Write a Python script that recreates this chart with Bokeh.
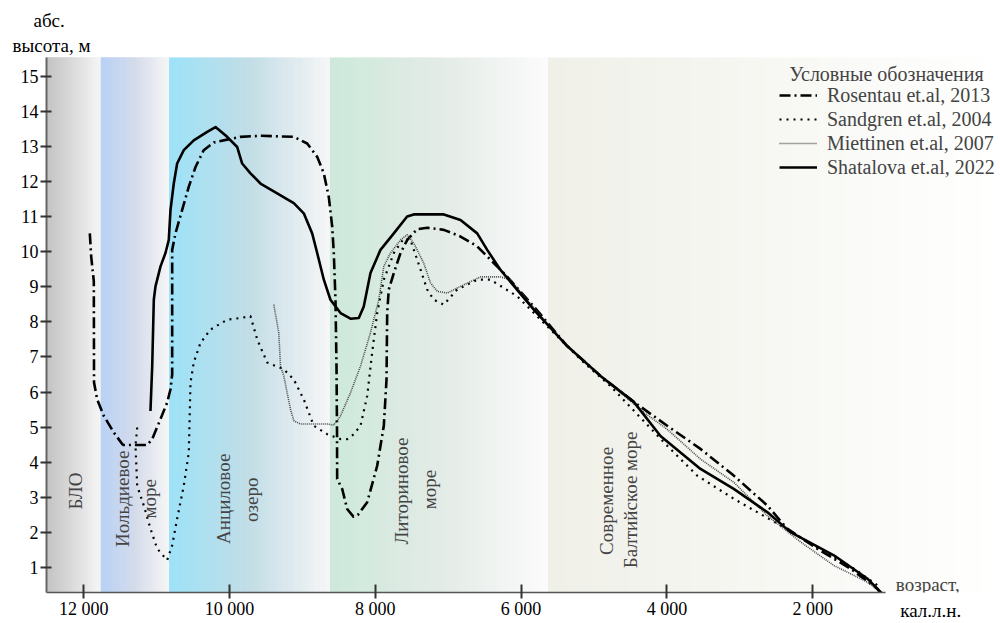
import numpy as np
from bokeh.plotting import figure
from bokeh.models import Range1d, FixedTicker, Label, Legend, LegendItem, Title, LinearAxis
from bokeh.embed import file_html
from bokeh.resources import INLINE

# ---------------- data ----------------
rosentau_age = [11916, 11897, 11861, 11858, 11815, 11724, 11587, 11472, 11454, 11129, 11060, 10946,
                10855, 10809, 10786, 10786, 10741, 10649, 10558, 10466, 10353, 10215, 10032, 9849,
                9575, 9118, 8934, 8797, 8706, 8638, 8591, 8569, 8546, 8532, 8525, 8523, 8454, 8386,
                8300, 8240, 8111, 7974, 7883, 7846, 7837, 7815, 7746, 7654, 7563, 7425, 7288, 7060,
                6831, 6602, 6420, 6237, 5826, 5368, 4911, 4454, 3996, 3539, 3083, 2624, 2350, 1939,
                1482, 1115, 1025]
rosentau_h = [10.52, 9.86, 9.15, 6.27, 5.79, 5.32, 4.85, 4.52, 4.49, 4.49, 4.66, 5.23,
              5.70, 6.08, 6.50, 10.05, 10.52, 11.19, 11.85, 12.41, 12.89, 13.11, 13.19, 13.27,
              13.30, 13.27, 13.08, 12.70, 12.23, 11.56, 10.71, 9.96, 8.63, 6.74, 4.85, 3.52, 3.24, 2.67,
              2.45, 2.50, 2.86, 3.90, 5.04, 6.36, 8.25, 8.92, 9.39, 9.96, 10.33, 10.64, 10.68, 10.62,
              10.43, 10.15, 9.77, 9.39, 8.44, 7.31, 6.46, 5.72, 5.04, 4.38, 3.62, 2.77, 2.11, 1.54,
              0.97, 0.40, 0.15]

sandgren_age = [11266, 11289, 11266, 11176, 11084, 10992, 10855, 10786, 10718, 10627, 10558, 10535,
                10490, 10398, 10261, 10032, 9849, 9712, 9620, 9483, 9255, 9118, 8981, 8844, 8660,
                8477, 8386, 8295, 8203, 8111, 8043, 7974, 7883, 7746, 7608, 7517, 7425, 7288, 7198,
                7060, 6877, 6602, 6420, 6054, 5597, 5140, 4774, 3996, 3585, 3083, 2442, 1985, 1436,
                1115]
sandgren_h = [4.99, 4.47, 3.33, 2.77, 2.11, 1.54, 1.21, 1.63, 2.39, 3.33, 4.28, 6.27,
              6.84, 7.40, 7.78, 8.06, 8.11, 8.16, 7.50, 6.84, 6.65, 6.36, 5.79, 5.04, 4.80,
              4.66, 4.66, 4.80, 5.04, 5.89, 7.12, 8.25, 9.20, 9.96, 10.38, 10.33, 9.77, 8.92, 8.63,
              8.49, 8.92, 9.20, 9.20, 8.73, 7.78, 6.84, 6.17, 4.47, 3.62, 2.96, 2.20, 1.63, 0.97,
              0.50]

miettinen_age = [9392, 9324, 9300, 9255, 9209, 9163, 9118, 9026, 8660, 8569, 8477, 8340, 8203, 8066,
                 7952, 7883, 7792, 7654, 7563, 7472, 7335, 7243, 7151, 7014, 6831, 6557, 6283, 6146,
                 5826, 5368, 4911, 4317, 3996, 3539, 3083, 2624, 2167, 1710, 1253, 1070]
miettinen_h = [8.49, 7.69, 6.74, 6.46, 5.98, 5.51, 5.18, 5.09, 5.09, 5.06, 5.32, 5.98, 6.74, 7.69,
               8.63, 9.58, 9.96, 10.33, 10.48, 10.24, 9.67, 9.11, 8.87, 8.82, 9.01, 9.28, 9.28, 9.20,
               8.40, 7.31, 6.46, 5.42, 4.94, 4.09, 3.43, 2.48, 1.73, 1.06, 0.59, 0.31]

shatalova_age = [11084, 11060, 11038, 11015, 10946, 10878, 10833, 10809, 10764, 10718, 10627, 10490,
                 10306, 10192, 10032, 9894, 9826, 9712, 9575, 9346, 9118, 8981, 8866, 8797, 8706,
                 8615, 8477, 8340, 8226, 8158, 8066, 7929, 7746, 7563, 7472, 7060, 6831, 6602, 6465,
                 6283, 5826, 5368, 4911, 4454, 4088, 3539, 3083, 2624, 2305, 1710, 1253, 1025]
shatalova_h = [5.46, 6.74, 8.63, 9.01, 9.58, 9.96, 10.33, 11.19, 11.94, 12.51, 12.89, 13.17,
               13.41, 13.55, 13.27, 12.98, 12.51, 12.23, 11.94, 11.66, 11.38, 11.09, 10.52, 9.96, 9.20,
               8.63, 8.25, 8.09, 8.11, 8.44, 9.39, 10.05, 10.52, 11.00, 11.06, 11.06, 10.90, 10.52, 10.05,
               9.48, 8.35, 7.31, 6.46, 5.72, 4.75, 3.81, 3.24, 2.58, 2.01, 1.35, 0.69, 0.21]

series_names = ["Rosentau et.al, 2013", "Sandgren et.al, 2004",
                "Miettinen et.al, 2007", "Shatalova et.al, 2022"]

# stages (background bands): edges in cal. years BP
band_edges = [12510, 11760, 10823, 8615, 5624, -576]
band_colors = [["#c3c3c3", "#dbdbdb", "#f6f6f6"],
               ["#b7d1f6", "#d4dbea", "#f6f6f6"],
               ["#9de2f8", "#c2dde6", "#f6f6f6"],
               ["#cde9db", "#e3ebe6", "#fbfbfb"],
               ["#f0f0e9", "#f7f7f3", "#ffffff"]]

x_ticks = [12000, 10000, 8000, 6000, 4000, 2000]
x_tick_labels = ["12 000", "10 000", "8 000", "6 000", "4 000", "2 000"]
y_ticks = list(range(1, 16))

FONT = "Liberation Serif"
Y0, Y1 = 0.29, 15.53

p = figure(width=1000, height=623, x_range=Range1d(12510, -576), y_range=Range1d(Y0, Y1),
           output_backend="svg", toolbar_location=None, title=None,
           min_border_left=46, min_border_right=0, min_border_top=57, min_border_bottom=0,
           outline_line_color=None, background_fill_color="white")
p.grid.visible = False


def hex2rgb(h):
    h = h.lstrip("#")
    return np.array([int(h[i:i + 2], 16) for i in (0, 2, 4)], dtype=float)


lefts, rights, cols = [], [], []
for i in range(len(band_colors)):
    x0, x1 = band_edges[i], band_edges[i + 1]
    stops = [hex2rgb(c) for c in band_colors[i]]
    n = 50
    for k in range(n):
        t = (k + 0.5) / n
        if t < 0.5:
            c = stops[0] + (stops[1] - stops[0]) * (t / 0.5)
        else:
            c = stops[1] + (stops[2] - stops[1]) * ((t - 0.5) / 0.5)
        lefts.append(x0 + (x1 - x0) * k / n)
        rights.append(x0 + (x1 - x0) * (k + 1) / n)
        cols.append("#%02x%02x%02x" % tuple(int(round(v)) for v in c))
p.quad(left=lefts, right=rights, bottom=-2, top=18, fill_color=cols, line_color=cols, line_width=1)

r_ros = p.line(rosentau_age, rosentau_h, line_color="black", line_width=2.6,
               line_dash="11 4 2 4", line_join="round")
r_san = p.line(sandgren_age, sandgren_h, line_color="black", line_width=2.2,
               line_dash="2 5", line_join="round")
r_mie = p.line(miettinen_age, miettinen_h, line_color="#4a4a4a", line_width=1.6,
               line_dash="1 1", line_join="round")
r_sha = p.line(shatalova_age, shatalova_h, line_color="black", line_width=2.6, line_join="round")

# axes
xa = p.xaxis[0]
xa.ticker = FixedTicker(ticks=x_ticks)
xa.major_label_overrides = {t: l for t, l in zip(x_ticks, x_tick_labels)}
xa.bounds = (1000, 12510)
xa.axis_line_color = "#555555"
xa.axis_line_width = 1.6
xa.major_tick_line_color = "#333333"
xa.major_tick_line_width = 2
xa.major_tick_in = 8
xa.major_tick_out = 6
xa.minor_tick_line_color = None
xa.major_label_text_font = FONT
xa.major_label_text_font_size = "18px"
xa.major_label_text_color = "black"
xa.major_label_text_line_height = 1.0
xa.major_label_standoff = 0

# secondary bottom "axis" carrying only the unit text under "возраст,"
unit_tick = [380]
xb = LinearAxis(ticker=FixedTicker(ticks=unit_tick),
                major_label_overrides={unit_tick[0]: "кал.л.н."},
                axis_line_color=None, major_tick_line_color=None, minor_tick_line_color=None,
                major_tick_in=0, major_tick_out=0,
                major_label_text_font=FONT, major_label_text_font_size="19px",
                major_label_text_color="black", major_label_text_line_height=1.0,
                major_label_standoff=-22)
p.add_layout(xb, "below")

ya = p.yaxis[0]
ya.ticker = FixedTicker(ticks=y_ticks)
ya.axis_line_color = "#666666"
ya.axis_line_width = 2
ya.major_tick_line_color = "#333333"
ya.major_tick_line_width = 2
ya.major_tick_in = 5
ya.major_tick_out = 6
ya.minor_tick_line_color = None
ya.major_label_text_font = FONT
ya.major_label_text_font_size = "18px"
ya.major_label_text_color = "black"
ya.major_label_standoff = 2

# y-axis caption as titles above the frame
p.add_layout(Title(text="высота, м", align="left", offset=-34, standoff=4, text_font=FONT,
                   text_font_size="19px", text_font_style="normal", text_color="black"), "above")
p.add_layout(Title(text="абс.", align="left", offset=-13, standoff=0, text_font=FONT,
                   text_font_size="19px", text_font_style="normal", text_color="black"), "above")

# legend
legend = Legend(items=[LegendItem(label=series_names[0], renderers=[r_ros]),
                       LegendItem(label=series_names[1], renderers=[r_san]),
                       LegendItem(label=series_names[2], renderers=[r_mie]),
                       LegendItem(label=series_names[3], renderers=[r_sha])],
                location=(733, 413), padding=0, margin=0, spacing=0,
                glyph_width=38, glyph_height=24, label_height=24, label_standoff=10,
                label_text_font=FONT, label_text_font_size="20px",
                border_line_alpha=0, background_fill_alpha=0)
p.add_layout(legend)

p.add_layout(Label(x=988, y=15.05, text="Условные обозначения",
                   text_font=FONT, text_font_size="20px", text_align="center",
                   text_baseline="middle"))

p.add_layout(Label(x=860, y=0.52, text="возраст,", text_font=FONT, text_font_size="19px",
                   text_align="left", text_baseline="middle"))

# stage labels (rotated)
stage_labels = [("БЛО", 12112, 3.18), ("Иольдиевое", 11461, 2.96), ("море", 11097, 2.96),
                ("Анциловое", 10082, 2.96), ("озеро", 9698, 2.93),
                ("Литориновое", 7634, 3.18), ("море", 7257, 3.22),
                ("Современное", 4822, 2.9), ("Балтийское море", 4506, 2.93)]
for txt, xx, yy in stage_labels:
    p.add_layout(Label(x=xx, y=yy, text=txt, angle=np.pi / 2, text_font=FONT,
                       text_font_size="19px", text_align="center", text_baseline="middle"))

open("out.html", "w").write(file_html(p, INLINE))
